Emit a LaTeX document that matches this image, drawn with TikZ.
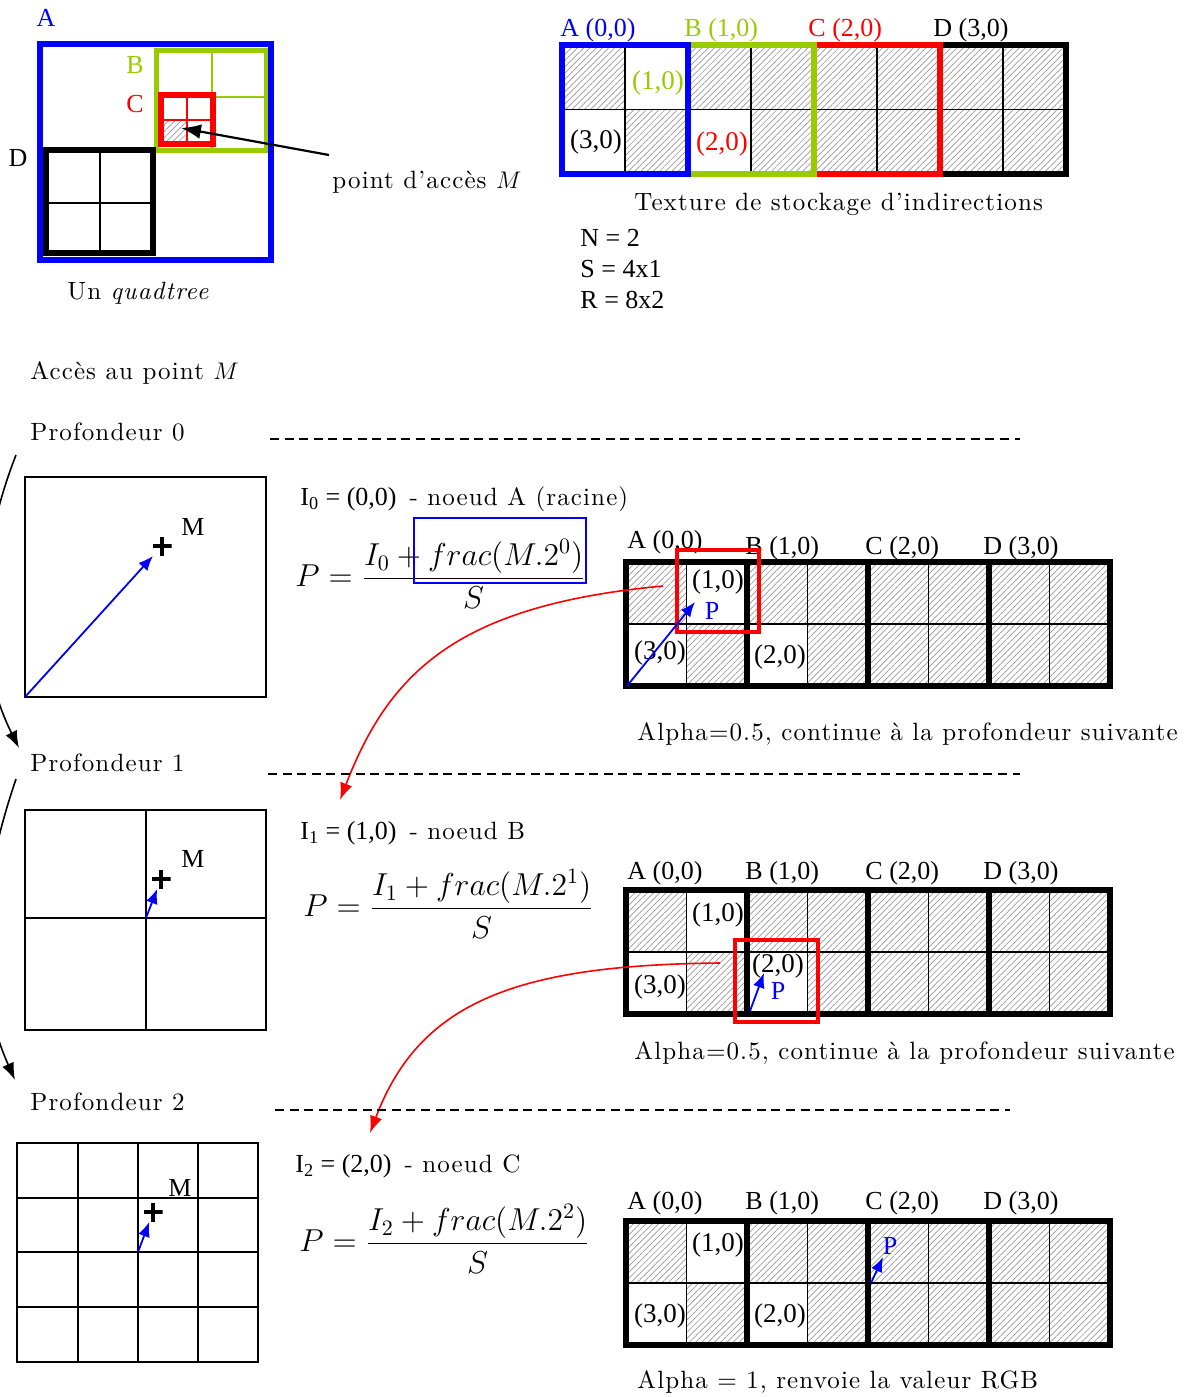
\documentclass[tikz,border=0pt]{standalone}
\usepackage{fontspec}
\usetikzlibrary{arrows.meta, patterns.meta}
\newfontfamily\tnr{Liberation Serif}
\newfontfamily\lmsp{lmroman10-regular.otf}[Ligatures=TeX, LetterSpace=4.5, ItalicFont=lmroman10-italic.otf]
\newcommand{\cmt}{\lmsp\fontsize{12.5}{14}\selectfont}
\definecolor{qblue}{RGB}{0,0,255}
\definecolor{qgreen}{RGB}{153,204,0}
\definecolor{qred}{RGB}{255,0,0}
\tikzset{
  hatch/.style={pattern={Lines[angle=45,distance=2.2pt,line width=0.35pt]}, pattern color=gray!80},
  pics/texgrid/.style 2 args={code={
    \fill[hatch] (0,0) rectangle (8*#1,2*#2);
    \fill[white] (#1,0) rectangle (2*#1,#2);
    \fill[white] (0,#2) rectangle (#1,2*#2);
    \fill[white] (2*#1,#2) rectangle (3*#1,2*#2);
    \foreach \i in {1,3,5,7} \draw[line width=0.8pt] (\i*#1,0) -- (\i*#1,2*#2);
    \draw[line width=0.8pt] (0,#2) -- (8*#1,#2);
    \foreach \i in {2,4,6} \draw[line width=2.8pt] (\i*#1,0) -- (\i*#1,2*#2);
    \draw[line width=3.2pt] (0,0) rectangle (8*#1,2*#2);
  }}
}
\begin{document}
\begin{tikzpicture}[x=0.5pt, y=-0.5pt,
  txt/.style={font=\cmt, inner sep=0pt},
  tms/.style={font=\tnr\fontsize{13}{15}\selectfont, inner sep=0pt},
  cell/.style={font=\tnr\fontsize{13.5}{15}\selectfont, inner sep=0pt},
  eqn/.style={font=\fontsize{14.4}{18}\selectfont, inner sep=0pt, anchor=west, scale=1.1},
  mcross/.style={inner sep=0pt, minimum size=9.5pt, path picture={
    \draw[line width=1.7pt] (path picture bounding box.north) -- (path picture bounding box.south)
      (path picture bounding box.west) -- (path picture bounding box.east);}},
  parr/.style={qblue, line width=0.9pt, -{Latex[length=2.6mm, width=2.1mm]}},
  rarr/.style={qred, line width=0.8pt, -{Latex[length=3mm, width=2.2mm]}},
  karr/.style={line width=0.8pt, -{Latex[length=3mm, width=2.2mm]}},
  sepline/.style={line width=0.75pt, dash pattern=on 4.5pt off 2.8pt},
  box/.style={line width=0.6pt},
  hit/.style={qred, line width=2pt}]
\useasboundingbox (0,0) rectangle (1195,1397);

% quadtree
\draw[qgreen, line width=2.5pt] (156,50) rectangle (266,150);
\draw[qgreen, line width=0.6pt] (212,50) -- (212,150) (156,97) -- (266,97);
\fill[white] (161,95) rectangle (213,144);
\fill[hatch] (161,120) rectangle (187,144);
\draw[qred, line width=1.4pt] (187,95) -- (187,144) (161,120) -- (213,120);
\draw[qred, line width=2.8pt] (161,95) rectangle (213,144);
\draw[line width=1pt] (100,150) -- (100,253) (46,203) -- (153,203);
\draw[line width=3.2pt] (46,150) rectangle (153,253);
\draw[qblue, line width=3pt] (40,44) rectangle (271,260);
\node[tms, qblue] (qa) at (46,18) {A};
\node[tms, qgreen] (qb) at (135,65) {B};
\node[tms, qred] (qc) at (135,104) {C};
\node[tms] (qd) at (18,158) {D};
\coordinate (ptail) at (329,155);
\coordinate (ptip) at (181,128);
\draw[line width=1.1pt, -{Latex[length=3.5mm, width=2.6mm]}] (ptail) -- (ptip);
\node[txt, anchor=west] (acc) at (332,182) {point d'accès $M$};
\node[txt, anchor=west] (qcap) at (67,293) {Un \textit{quadtree}};

% texture de stockage
\pic at (562,45) {texgrid={63}{64.5}};
\draw[line width=3.2pt] (940,45) rectangle (1066,174);
\draw[qred, line width=3.2pt] (814,45) rectangle (940,174);
\draw[qgreen, line width=3.2pt] (688,45) rectangle (814,174);
\draw[qblue, line width=3.2pt] (562,45) rectangle (688,174);
\node[tms, qblue, anchor=west] (ta) at (560,30) {A (0,0)};
\node[tms, qgreen, anchor=west] (tb) at (684,30) {B (1,0)};
\node[tms, qred, anchor=west] (tc) at (808,30) {C (2,0)};
\node[tms, anchor=west] (td) at (933,30) {D (3,0)};
\node[cell, qgreen] (tc10) at (658,83) {(1,0)};
\node[cell] (tc30) at (596,142) {(3,0)};
\node[cell, qred] (tc20) at (722,144) {(2,0)};
\node[txt, anchor=west] (tcap) at (634,204) {Texture de stockage d'indirections};
\node[tms, anchor=west] (vn) at (580,238) {N = 2};
\node[tms, anchor=west] (vs) at (580,269) {S = 4x1};
\node[tms, anchor=west] (vr) at (580,300) {R = 8x2};

\node[txt, anchor=west] (acm) at (30,373) {Accès au point $M$};

% profondeur 0
\node[txt, anchor=west] (p0) at (30,432) {Profondeur 0};
\draw[sepline] (270,439) -- (1020,439);
\draw[box] (25,477) rectangle (266,697);
\node[mcross] (m0) at (162,546) {};
\node[tms] (lm0) at (193,527) {M};
\coordinate (o0) at (25,697);
\draw[parr] (o0) -- (m0);
\node[tms, anchor=west] (i0) at (300,499) {I\textsubscript{0} = (0,0)\ \ {\cmt - noeud A (racine)}};
\node[eqn] (f0) at (295,574) {$\displaystyle P=\frac{I_0+frac(M.2^0)}{S}$};
\draw[qblue, line width=1pt] (414,518) rectangle (586,583);
\pic at (626,562) {texgrid={60.5}{62}};
\node[tms, anchor=west] (a0) at (627,542) {A (0,0)};
\node[tms, anchor=west] (b0) at (745,548) {B (1,0)};
\node[tms, anchor=west] (cc0) at (865,548) {C (2,0)};
\node[tms, anchor=west] (d0) at (983,548) {D (3,0)};
\node[cell] (x10a) at (718,582) {(1,0)};
\node[cell] (x30a) at (660,653) {(3,0)};
\node[cell] (x20a) at (780,657) {(2,0)};
\draw[hit] (677,550) rectangle (759,632);
\coordinate (t0o) at (627,686);
\coordinate (t0p) at (695,602);
\draw[parr] (t0o) -- (t0p);
\node[tms, qblue] (pp0) at (712,611) {P};
\coordinate (r0a) at (663,586);
\coordinate (r0b) at (340,800);
\draw[rarr] (r0a) .. controls (460,605) and (390,670) .. (r0b);
\node[txt, anchor=west] (al0) at (637,734) {Alpha=0.5, continue à la profondeur suivante};
\coordinate (c0a) at (16,455);
\coordinate (c0b) at (19,748);
\draw[karr] (c0a) .. controls (-25,560) and (-25,660) .. (c0b);

% profondeur 1
\node[txt, anchor=west] (p1) at (30,763) {Profondeur 1};
\draw[sepline] (268,774) -- (1020,774);
\draw[box] (25,810) rectangle (266,1030);
\draw[box] (146,810) -- (146,1030) (25,918) -- (266,918);
\node[mcross] (m1) at (161,879) {};
\node[tms] (lm1) at (193,859) {M};
\coordinate (o1) at (146,918);
\draw[parr] (o1) -- (m1);
\node[tms, anchor=west] (i1) at (300,833) {I\textsubscript{1} = (1,0)\ \ {\cmt - noeud B}};
\node[eqn] (f1) at (303,904) {$\displaystyle P=\frac{I_1+frac(M.2^1)}{S}$};
\pic at (626,890) {texgrid={60.5}{62}};
\node[tms, anchor=west] (a1) at (627,873) {A (0,0)};
\node[tms, anchor=west] (b1) at (745,873) {B (1,0)};
\node[tms, anchor=west] (cc1) at (865,873) {C (2,0)};
\node[tms, anchor=west] (d1) at (983,873) {D (3,0)};
\node[cell] (x10b) at (718,915) {(1,0)};
\node[cell] (x30b) at (660,987) {(3,0)};
\node[cell] (x20b) at (778,966) {(2,0)};
\draw[hit] (735,940) rectangle (818,1022);
\coordinate (t1o) at (750,1011);
\coordinate (t1p) at (764,973);
\draw[parr] (t1o) -- (t1p);
\node[tms, qblue] (pp1) at (778,991) {P};
\coordinate (r1a) at (720,963);
\coordinate (r1b) at (370,1133);
\draw[rarr] (r1a) .. controls (520,965) and (420,1000) .. (r1b);
\node[txt, anchor=west] (al1) at (634,1053) {Alpha=0.5, continue à la profondeur suivante};
\coordinate (c1a) at (16,779);
\coordinate (c1b) at (15,1080);
\draw[karr] (c1a) .. controls (-25,900) and (-25,990) .. (c1b);

% profondeur 2
\node[txt, anchor=west] (p2) at (30,1102) {Profondeur 2};
\draw[sepline] (275,1110) -- (1010,1110);
\draw[box] (17,1143) rectangle (258,1362);
\foreach \gx in {78,138,198} \draw[box] (\gx,1143) -- (\gx,1362);
\foreach \gy in {1198,1252,1307} \draw[box] (17,\gy) -- (258,\gy);
\node[mcross] (m2) at (153,1212) {};
\node[tms] (lm2) at (180,1188) {M};
\coordinate (o2) at (138,1252);
\draw[parr] (o2) -- (m2);
\node[tms, anchor=west] (i2) at (295,1166) {I\textsubscript{2} = (2,0)\ \ {\cmt - noeud C}};
\node[eqn] (f2) at (299,1239) {$\displaystyle P=\frac{I_2+frac(M.2^2)}{S}$};
\pic at (626,1221) {texgrid={60.5}{62}};
\node[tms, anchor=west] (a2) at (627,1203) {A (0,0)};
\node[tms, anchor=west] (b2) at (745,1203) {B (1,0)};
\node[tms, anchor=west] (cc2) at (865,1203) {C (2,0)};
\node[tms, anchor=west] (d2) at (983,1203) {D (3,0)};
\node[cell] (x10c) at (718,1245) {(1,0)};
\node[cell] (x30c) at (660,1316) {(3,0)};
\node[cell] (x20c) at (780,1316) {(2,0)};
\coordinate (t2o) at (871,1283);
\coordinate (t2p) at (883,1257);
\draw[parr] (t2o) -- (t2p);
\node[tms, qblue] (pp2) at (890,1246) {P};
\node[txt, anchor=west] (al2) at (637,1382) {Alpha = 1, renvoie la valeur RGB};
\end{tikzpicture}
\end{document}
